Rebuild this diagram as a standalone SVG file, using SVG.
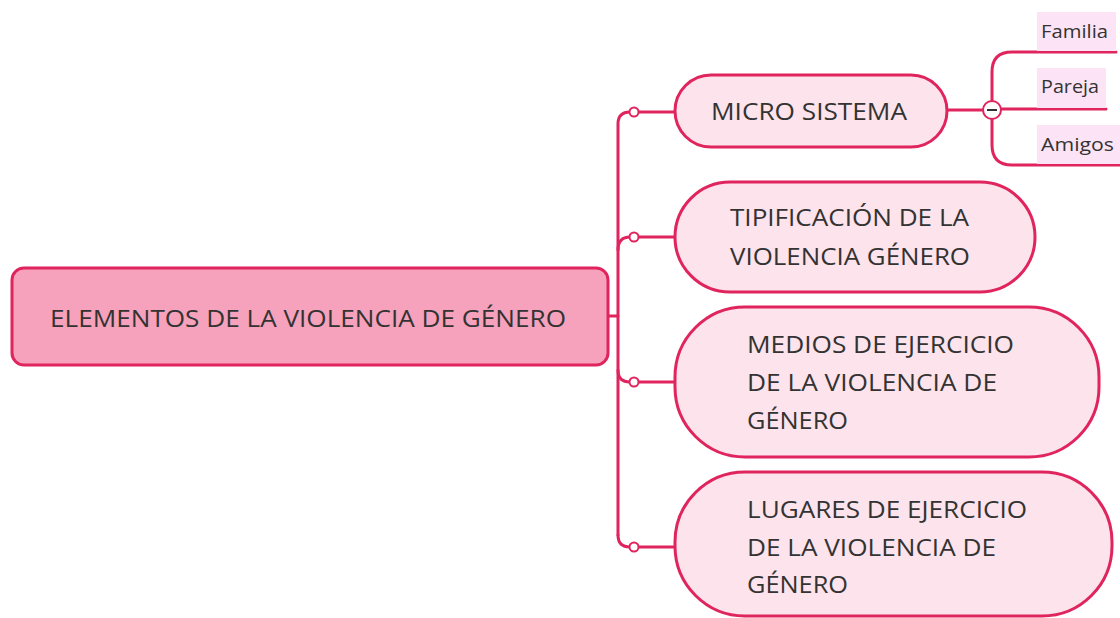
<svg xmlns="http://www.w3.org/2000/svg" width="1120" height="618" viewBox="0 0 1120 618">
<style>
.conn{fill:none;stroke:#e0255e;stroke-width:3;stroke-linecap:round}
.dot{fill:#fff;stroke:#e0255e;stroke-width:2}
.root{fill:#f7a2bc;stroke:#e0255e;stroke-width:3}
.topic{fill:#fde3ec;stroke:#e0255e;stroke-width:3}
.sub{fill:#fce4f6}
.t{font-family:"Open Sans","Noto Sans","Liberation Sans",sans-serif;font-size:24px;fill:#333}
.s{font-family:"Open Sans","Noto Sans","Liberation Sans",sans-serif;font-size:18px;fill:#333}
</style>
<rect width="1120" height="618" fill="#fff"/>
<g id="connectors">
<path class="conn" d="M608,316 H618"/>
<path class="conn" d="M618,535 V124 Q618,112 630,112 H675"/>
<path class="conn" d="M618,250 Q618,237 630,237 H675"/>
<path class="conn" d="M618,370 Q618,382 630,382 H675"/>
<path class="conn" d="M618,535 Q618,547 630,547 H675"/>
<path class="conn" d="M947,110 H983"/>
<path class="conn" d="M992,101 V72 Q992,52 1012,52 H1116"/>
<path class="conn" d="M1001,109 H1106"/>
<path class="conn" d="M992,119 V145 Q992,165 1012,165 H1120"/>
<circle class="dot" cx="634" cy="112" r="4.5"/>
<circle class="dot" cx="634" cy="237" r="4.5"/>
<circle class="dot" cx="634" cy="382" r="4.5"/>
<circle class="dot" cx="634" cy="547" r="4.5"/>
<circle cx="992" cy="110" r="9" fill="#fff" stroke="#e0255e" stroke-width="2"/>
<path d="M987,110 H997" stroke="#333" stroke-width="2"/>
</g>
<g id="root">
<rect class="root" x="12" y="268" width="596" height="97" rx="12"/>
<text class="t" x="50" y="327" textLength="516" lengthAdjust="spacingAndGlyphs">ELEMENTOS DE LA VIOLENCIA DE GÉNERO</text>
</g>
<g id="micro">
<rect class="topic" x="675" y="75" width="272" height="72" rx="36"/>
<text class="t" x="711" y="120" textLength="196" lengthAdjust="spacingAndGlyphs">MICRO SISTEMA</text>
</g>
<g id="tipificacion">
<rect class="topic" x="675" y="182" width="360" height="110" rx="55"/>
<text class="t" x="730" y="226" textLength="239" lengthAdjust="spacingAndGlyphs">TIPIFICACIÓN DE LA</text>
<text class="t" x="730" y="265" textLength="240" lengthAdjust="spacingAndGlyphs">VIOLENCIA GÉNERO</text>
</g>
<g id="medios">
<rect class="topic" x="675" y="307" width="424" height="150" rx="70"/>
<text class="t" x="747" y="353" textLength="267" lengthAdjust="spacingAndGlyphs">MEDIOS DE EJERCICIO</text>
<text class="t" x="747" y="391" textLength="250" lengthAdjust="spacingAndGlyphs">DE LA VIOLENCIA DE</text>
<text class="t" x="747" y="429" textLength="101" lengthAdjust="spacingAndGlyphs">GÉNERO</text>
</g>
<g id="lugares">
<rect class="topic" x="675" y="472" width="437" height="144" rx="70"/>
<text class="t" x="747" y="518" textLength="280" lengthAdjust="spacingAndGlyphs">LUGARES DE EJERCICIO</text>
<text class="t" x="747" y="556" textLength="249" lengthAdjust="spacingAndGlyphs">DE LA VIOLENCIA DE</text>
<text class="t" x="747" y="593" textLength="101" lengthAdjust="spacingAndGlyphs">GÉNERO</text>
</g>
<g id="familia">
<rect class="sub" x="1037" y="12" width="79" height="39"/>
<text class="s" x="1041" y="38" textLength="67" lengthAdjust="spacingAndGlyphs">Familia</text>
</g>
<g id="pareja">
<rect class="sub" x="1037" y="68" width="69" height="40"/>
<text class="s" x="1041" y="93" textLength="58" lengthAdjust="spacingAndGlyphs">Pareja</text>
</g>
<g id="amigos">
<rect class="sub" x="1037" y="125" width="83" height="39"/>
<text class="s" x="1041" y="151" textLength="73" lengthAdjust="spacingAndGlyphs">Amigos</text>
</g>
</svg>
